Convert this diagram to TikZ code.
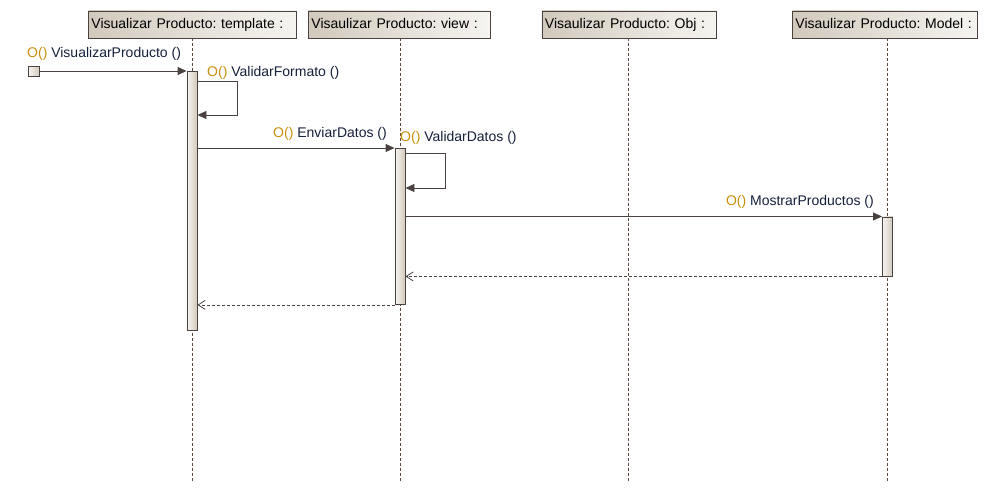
\documentclass[tikz,border=0pt]{standalone}
\usepackage{fontspec}
\setmainfont{Liberation Sans}
\usetikzlibrary{arrows.meta,calc}
\definecolor{boxline}{HTML}{4A4240}
\definecolor{tanL}{HTML}{D2C9BD}
\definecolor{tanR}{HTML}{F6F4F0}
\definecolor{opgold}{HTML}{C8900A}
\definecolor{opname}{HTML}{15203A}
\definecolor{lifecol}{HTML}{5A4A42}
\tikzset{
  head/.style={draw=boxline, line width=0.9pt, left color=tanL, right color=tanR,
    minimum height=27pt, inner xsep=3pt, inner ysep=0pt, anchor=north west, text height=10.5pt, text depth=3pt,
    font=\fontsize{14}{16}\selectfont, align=left},
  lifeline/.style={draw=lifecol, line width=0.7pt, dash pattern=on 3pt off 2pt},
  actbar/.style={draw=boxline, line width=0.9pt, left color=tanR, right color=tanL,
    minimum width=10pt, inner sep=0pt, anchor=north},
  msg/.style={draw=boxline, line width=0.9pt, -{Triangle[width=8pt,length=9pt]}},
  ret/.style={draw=boxline, line width=0.8pt, dash pattern=on 3pt off 2pt, -{Straight Barb[width=9pt,length=7pt]}},
  oplabel/.style={font=\fontsize{14}{16}\selectfont, text=opname, inner sep=0pt},
}
\newcommand{\opl}[1]{{\color{opgold}O()} #1}
\begin{document}
\frenchspacing
\begin{tikzpicture}[x=1pt,y=-1pt]
\useasboundingbox[fill=white] (0,0) rectangle (992,491);
% headers
\node[head, text width=202pt] (h1) at (88,10.5) {Visualizar Producto: template :};
\node[head, text width=176pt] (h2) at (308,10.5) {Visaulizar Producto: view :};
\node[head, text width=168pt] (h3) at (541.5,10.5) {Visaulizar Producto: Obj :};
\node[head, text width=179pt] (h4) at (792,10.5) {Visaulizar Producto: Model :};
% lifeline ends
\coordinate (e1) at (192,481);
\coordinate (e2) at (400,481);
\coordinate (e3) at (628.5,481);
\coordinate (e4) at (887.5,481);
\draw[lifeline] (192,37.5) -- (e1);
\draw[lifeline] (400,37.5) -- (e2);
\draw[lifeline] (628.5,37.5) -- (e3);
\draw[lifeline] (887.5,37.5) -- (e4);
% activation bars
\node[actbar, minimum height=259pt] (b1) at (192,71) {};
\node[actbar, minimum height=156pt] (b2) at (400,148) {};
\node[actbar, minimum height=59pt] (b3) at (887.5,216.5) {};
% start square
\node[draw=boxline, line width=0.9pt, left color=tanR, right color=tanL, minimum width=11pt, minimum height=10pt, inner sep=0pt] (s) at (34,71) {};
% messages
\draw[msg] (s.east) -- (b1.north west);
\node[oplabel, anchor=base west] (l1) at (27,57) {\opl{VisualizarProducto ()}};
\coordinate (v1a) at ($(b1.north east)+(0,10)$);
\coordinate (v1b) at (237.5,81);
\coordinate (v1c) at (237.5,115);
\draw[msg] (v1a) -- (v1b) -- (v1c) -- (b1.east |- v1c);
\node[oplabel, anchor=base west] (l2) at (207,76) {\opl{ValidarFormato ()}};
\draw[msg] (b1.east |- b2.north) -- (b2.north west);
\node[oplabel, anchor=base east] (l3) at (387,137) {\opl{EnviarDatos ()}};
\coordinate (v2a) at ($(b2.north east)+(0,5)$);
\coordinate (v2b) at (445.5,153);
\coordinate (v2c) at (445.5,188);
\draw[msg] (v2a) -- (v2b) -- (v2c) -- (b2.east |- v2c);
\node[oplabel, anchor=base west] (l4) at (400,141) {\opl{ValidarDatos ()}};
\draw[msg] (b2.east |- b3.north) -- (b3.north west);
\node[oplabel, anchor=base east] (l5) at (874,205) {\opl{MostrarProductos ()}};
% returns
\draw[ret] (b3.south west) -- (b2.east |- b3.south);
\draw[ret] (b2.south west) -- (b1.east |- b2.south);
\end{tikzpicture}
\end{document}
